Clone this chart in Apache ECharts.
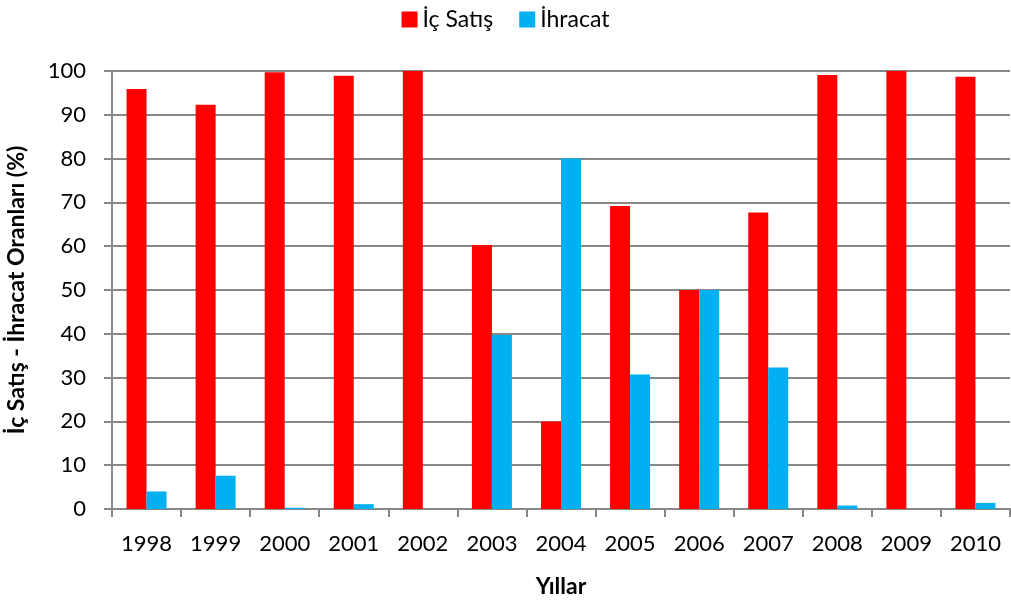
<!DOCTYPE html>
<html>
<head>
<meta charset="utf-8">
<script src="https://cdn.jsdelivr.net/npm/echarts@6/dist/echarts.min.js"></script>
<style>
  html, body { margin: 0; padding: 0; background: #fff; }
  #chart { width: 1011px; height: 600px; }
</style>
</head>
<body>
<div id="chart"></div>
<script>
// Domestic sales vs. export shares by year (%)
const years = ['1998', '1999', '2000', '2001', '2002', '2003', '2004', '2005', '2006', '2007', '2008', '2009', '2010'];
const icSatis = [95.9, 92.3, 99.7, 98.9, 100, 60.3, 20.0, 69.2, 50.0, 67.7, 99.1, 100, 98.7];
const ihracat = [4.0, 7.6, 0.3, 1.1, 0, 39.7, 80.0, 30.7, 50.0, 32.3, 0.8, 0, 1.4];
const yTicks = { min: 0, max: 100, interval: 10 };

const FONT = 'Lato, "Open Sans", sans-serif';
const GRID_GRAY = '#888888';

const chart = echarts.init(document.getElementById('chart'), null, { renderer: 'canvas' });

chart.setOption({
  animation: false,
  backgroundColor: '#ffffff',
  textStyle: { fontFamily: FONT, color: '#000' },
  legend: {
    top: 3,
    left: 'center',
    itemWidth: 16,
    itemHeight: 16,
    itemGap: 26,
    icon: 'rect',
    textStyle: { fontFamily: FONT, fontSize: 23, color: '#000' },
    data: ['İç Satış', 'İhracat']
  },
  grid: {
    left: 112, right: 1, top: 71, bottom: 91,
    containLabel: false,
    outerBoundsMode: 'none'
  },
  xAxis: {
    type: 'category',
    data: years,
    name: 'Yıllar',
    nameLocation: 'middle',
    nameGap: 66,
    nameTextStyle: { fontFamily: FONT, fontSize: 23, fontWeight: 'bold', color: '#000' },
    axisLine: { lineStyle: { color: GRID_GRAY, width: 2 } },
    axisTick: { show: true, length: 8, lineStyle: { color: GRID_GRAY, width: 2 }, alignWithLabel: false },
    axisLabel: { fontFamily: FONT, fontSize: 22, color: '#000', margin: 24, interval: 0, hideOverlap: false },
    splitLine: { show: false }
  },
  yAxis: {
    type: 'value',
    min: yTicks.min,
    max: yTicks.max,
    interval: yTicks.interval,
    name: 'İç Satış - İhracat Oranları (%)',
    nameLocation: 'middle',
    nameRotate: 90,
    nameGap: 84,
    nameTextStyle: { fontFamily: FONT, fontSize: 23, fontWeight: 'bold', color: '#000' },
    axisLine: { show: true, lineStyle: { color: GRID_GRAY, width: 2 } },
    axisTick: { show: true, length: 8, lineStyle: { color: GRID_GRAY, width: 2 } },
    axisLabel: { fontFamily: FONT, fontSize: 22, color: '#000', margin: 26 },
    splitLine: { show: true, lineStyle: { color: GRID_GRAY, width: 2 } }
  },
  series: [
    {
      name: 'İç Satış',
      type: 'bar',
      data: icSatis,
      barWidth: 20,
      barGap: '0%',
      itemStyle: { color: '#FF0000' }
    },
    {
      name: 'İhracat',
      type: 'bar',
      data: ihracat,
      barWidth: 20,
      barGap: '0%',
      itemStyle: { color: '#00B0F0' }
    }
  ]
});
</script>
</body>
</html>
